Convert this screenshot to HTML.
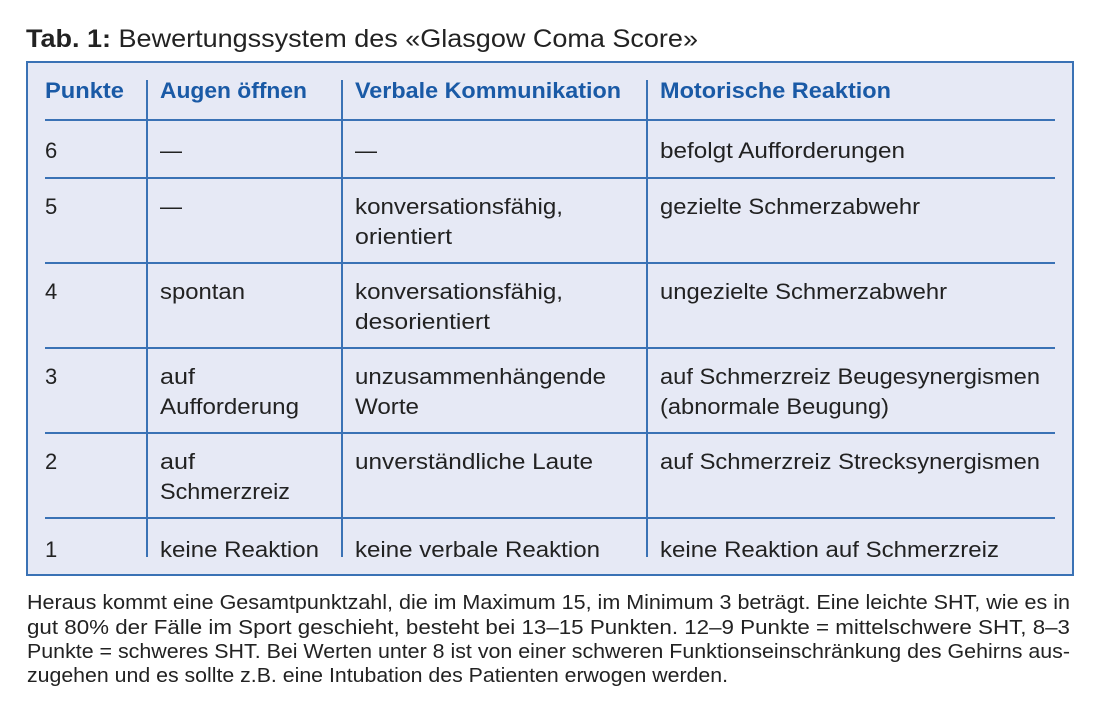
<!DOCTYPE html>
<html><head><meta charset="utf-8"><style>
html,body{margin:0;padding:0;background:#fff;}
svg{display:block;}
text{font-family:"Liberation Sans",sans-serif;fill:#222;}
.h{font-weight:bold;fill:#1a5aa6;font-size:22px;}
.b{font-size:22px;}
.c{font-size:20px;}
</style></head><body>
<svg width="1100" height="721" viewBox="0 0 1100 721">
<text x="26" y="47" font-size="25" lengthAdjust="spacingAndGlyphs" textLength="672"><tspan font-weight="bold">Tab. 1:</tspan> Bewertungssystem des «Glasgow Coma Score»</text>
<rect x="27" y="62" width="1046" height="513" fill="#e6e9f5" stroke="#3a72b5" stroke-width="2"/>
<g stroke="#3a72b5" stroke-width="2">
<line x1="45" y1="120" x2="1055" y2="120"/>
<line x1="45" y1="178" x2="1055" y2="178"/>
<line x1="45" y1="263" x2="1055" y2="263"/>
<line x1="45" y1="348" x2="1055" y2="348"/>
<line x1="45" y1="433" x2="1055" y2="433"/>
<line x1="45" y1="518" x2="1055" y2="518"/>
<line x1="147" y1="80" x2="147" y2="557"/>
<line x1="342" y1="80" x2="342" y2="557"/>
<line x1="647" y1="80" x2="647" y2="557"/>
</g>
<text class="h" x="45" y="98" textLength="79" lengthAdjust="spacingAndGlyphs">Punkte</text>
<text class="h" x="160" y="98" textLength="147" lengthAdjust="spacingAndGlyphs">Augen öffnen</text>
<text class="h" x="355" y="98" textLength="266" lengthAdjust="spacingAndGlyphs">Verbale Kommunikation</text>
<text class="h" x="660" y="98" textLength="231" lengthAdjust="spacingAndGlyphs">Motorische Reaktion</text>

<text class="b" x="45" y="158">6</text>
<text class="b" x="160" y="158">—</text>
<text class="b" x="355" y="158">—</text>
<text class="b" x="660" y="158" textLength="245" lengthAdjust="spacingAndGlyphs">befolgt Aufforderungen</text>

<text class="b" x="45" y="214">5</text>
<text class="b" x="160" y="214">—</text>
<text class="b" x="355" y="214" textLength="208" lengthAdjust="spacingAndGlyphs">konversationsfähig,</text>
<text class="b" x="355" y="244" textLength="97" lengthAdjust="spacingAndGlyphs">orientiert</text>
<text class="b" x="660" y="214" textLength="260" lengthAdjust="spacingAndGlyphs">gezielte Schmerzabwehr</text>

<text class="b" x="45" y="299">4</text>
<text class="b" x="160" y="299" textLength="85" lengthAdjust="spacingAndGlyphs">spontan</text>
<text class="b" x="355" y="299" textLength="208" lengthAdjust="spacingAndGlyphs">konversationsfähig,</text>
<text class="b" x="355" y="329" textLength="135" lengthAdjust="spacingAndGlyphs">desorientiert</text>
<text class="b" x="660" y="299" textLength="287" lengthAdjust="spacingAndGlyphs">ungezielte Schmerzabwehr</text>

<text class="b" x="45" y="384">3</text>
<text class="b" x="160" y="384" textLength="35" lengthAdjust="spacingAndGlyphs">auf</text>
<text class="b" x="160" y="414" textLength="139" lengthAdjust="spacingAndGlyphs">Aufforderung</text>
<text class="b" x="355" y="384" textLength="251" lengthAdjust="spacingAndGlyphs">unzusammenhängende</text>
<text class="b" x="355" y="414" textLength="64" lengthAdjust="spacingAndGlyphs">Worte</text>
<text class="b" x="660" y="384" textLength="380" lengthAdjust="spacingAndGlyphs">auf Schmerzreiz Beugesynergismen</text>
<text class="b" x="660" y="414" textLength="229" lengthAdjust="spacingAndGlyphs">(abnormale Beugung)</text>

<text class="b" x="45" y="469">2</text>
<text class="b" x="160" y="469" textLength="35" lengthAdjust="spacingAndGlyphs">auf</text>
<text class="b" x="160" y="499" textLength="130" lengthAdjust="spacingAndGlyphs">Schmerzreiz</text>
<text class="b" x="355" y="469" textLength="238" lengthAdjust="spacingAndGlyphs">unverständliche Laute</text>
<text class="b" x="660" y="469" textLength="380" lengthAdjust="spacingAndGlyphs">auf Schmerzreiz Strecksynergismen</text>

<text class="b" x="45" y="557">1</text>
<text class="b" x="160" y="557" textLength="159" lengthAdjust="spacingAndGlyphs">keine Reaktion</text>
<text class="b" x="355" y="557" textLength="245" lengthAdjust="spacingAndGlyphs">keine verbale Reaktion</text>
<text class="b" x="660" y="557" textLength="339" lengthAdjust="spacingAndGlyphs">keine Reaktion auf Schmerzreiz</text>

<text class="c" x="27" y="609" textLength="1043" lengthAdjust="spacingAndGlyphs">Heraus kommt eine Gesamtpunktzahl, die im Maximum 15, im Minimum 3 beträgt. Eine leichte SHT, wie es in</text>
<text class="c" x="27" y="634" textLength="1043" lengthAdjust="spacingAndGlyphs">gut 80% der Fälle im Sport geschieht, besteht bei 13–15 Punkten. 12–9 Punkte = mittelschwere SHT, 8–3</text>
<text class="c" x="27" y="658" textLength="1043" lengthAdjust="spacingAndGlyphs">Punkte = schweres SHT. Bei Werten unter 8 ist von einer schweren Funktionseinschränkung des Gehirns aus-</text>
<text class="c" x="27" y="682" textLength="701" lengthAdjust="spacingAndGlyphs">zugehen und es sollte z.B. eine Intubation des Patienten erwogen werden.</text>
</svg>
</body></html>
